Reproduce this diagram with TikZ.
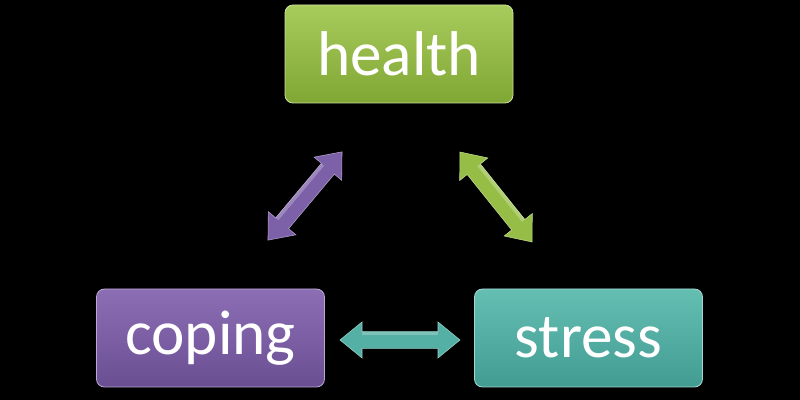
\documentclass[tikz,border=0pt]{standalone}
\usepackage{fontspec}
\setmainfont{Carlito}
\definecolor{gtop}{RGB}{168,204,92}
\definecolor{gbot}{RGB}{128,166,52}
\definecolor{ptop}{RGB}{140,110,180}
\definecolor{pbot}{RGB}{106,78,146}
\definecolor{ttop}{RGB}{100,190,178}
\definecolor{tbot}{RGB}{66,156,146}
\definecolor{garrow}{RGB}{150,190,70}
\definecolor{parrow}{RGB}{124,96,168}
\definecolor{tarrow}{RGB}{84,176,164}
\newcommand{\blockarrow}[5]{% name, center, angle, half length, colour
  \begin{scope}[shift={#2},rotate=#3]
    \coordinate (#1) at (0,0);
    \fill[#5, draw=#5!60!white, line width=0.4pt]
      (-#4,0) -- (-#4+0.55,0.45) -- (-#4+0.55,0.21) -- (#4-0.55,0.21)
      -- (#4-0.55,0.45) -- (#4,0) -- (#4-0.55,-0.45) -- (#4-0.55,-0.21)
      -- (-#4+0.55,-0.21) -- (-#4+0.55,-0.45) -- cycle;
    \fill[white,opacity=0.25] (-#4+0.55,0.21) -- (#4-0.55,0.21) -- (#4-0.55,0.12) -- (-#4+0.55,0.12) -- cycle;
  \end{scope}}
\tikzset{
  boxstyle/.style={rounded corners=0.2cm, minimum width=5.7cm, minimum height=2.45cm,
    text=white, font=\fontsize{45}{52}\selectfont, inner sep=0pt},
}
\begin{document}
\begin{tikzpicture}
\fill[black] (0,0) rectangle (20,10);
\useasboundingbox (0,0) rectangle (20,10);
\node[boxstyle, top color=gtop, bottom color=gbot, draw=gtop!60!white, line width=0.6pt] (health) at (9.975,8.65) {health};
\node[boxstyle, top color=ptop, bottom color=pbot, draw=ptop!60!white, line width=0.6pt] (coping) at (5.2625,1.55) {coping};
\node[boxstyle, top color=ttop, bottom color=tbot, draw=ttop!60!white, line width=0.6pt] (stress) at (14.7125,1.55) {stress};
\blockarrow{ch}{(7.625,5.1)}{50}{1.44}{parrow}
\blockarrow{hs}{(12.4,5.075)}{-51.3}{1.44}{garrow}
\blockarrow{cs}{(10,1.5)}{0}{1.5}{tarrow}
\end{tikzpicture}
\end{document}
